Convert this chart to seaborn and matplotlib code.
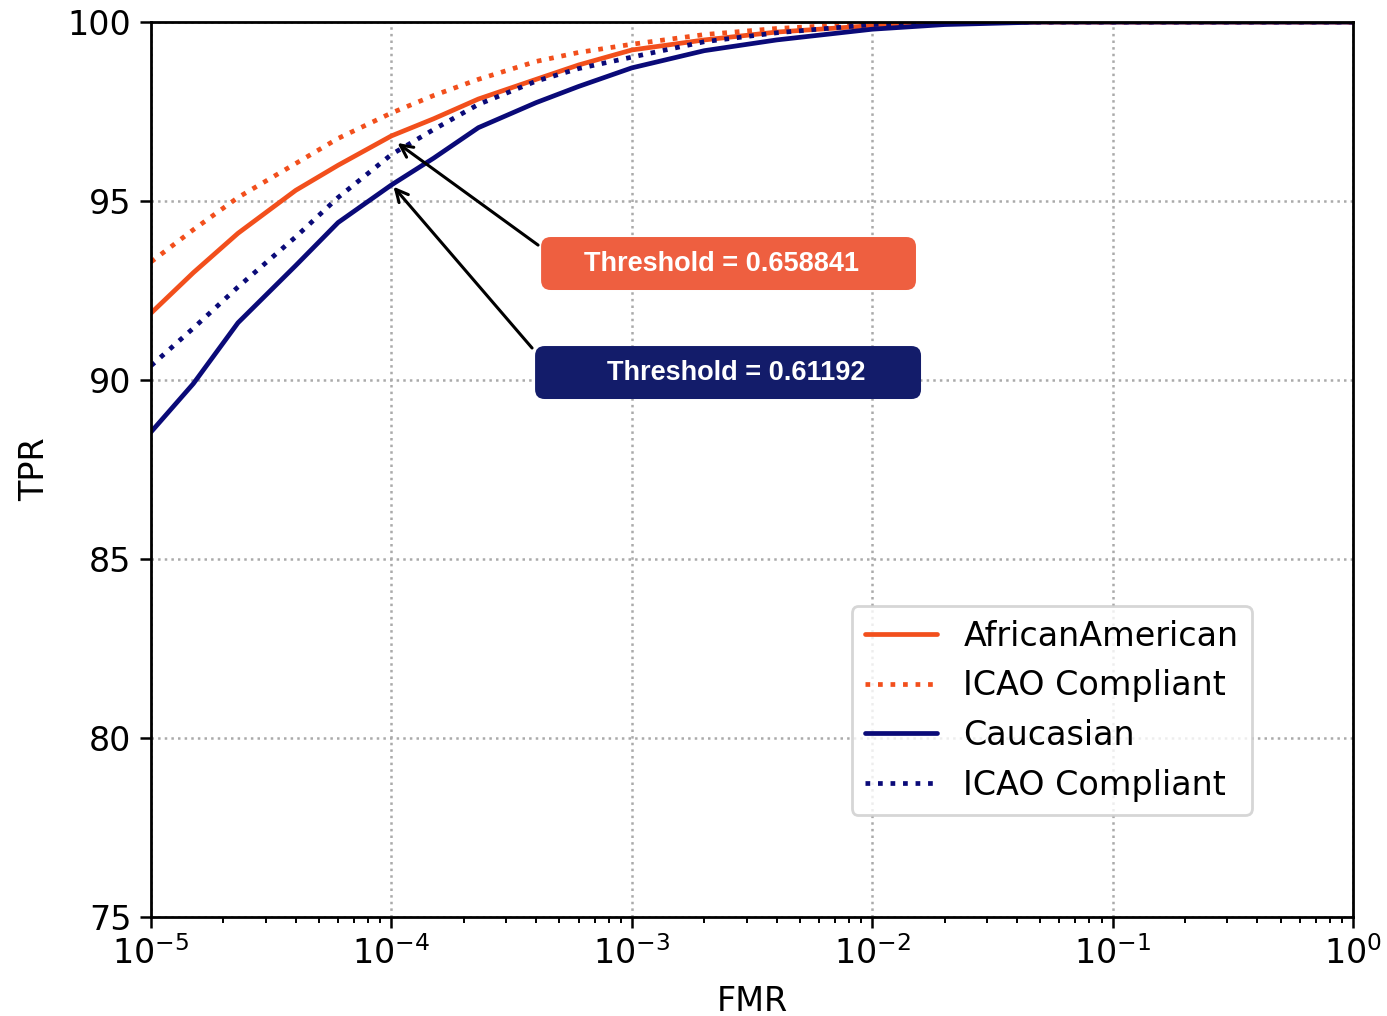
import numpy as np
import pandas as pd
import matplotlib
matplotlib.use("Agg")
import matplotlib.pyplot as plt
from matplotlib.patches import FancyBboxPatch
import seaborn as sns

# ROC operating points: false match rate and true positive rate (%)
fmr = [1e-5, 1.5e-5, 2.3e-5, 4e-5, 6e-5, 1e-4, 1.5e-4, 2.3e-4, 4e-4, 6e-4,
       1e-3, 2e-3, 4e-3, 1e-2, 2e-2, 5e-2, 1e-1, 1.0]

tpr_african_american = [91.87, 93.0, 94.1, 95.3, 96.0, 96.82, 97.3, 97.85, 98.4, 98.8,
                        99.22, 99.5, 99.72, 99.9, 99.97, 100.0, 100.0, 100.0]
tpr_african_american_icao = [93.3, 94.2, 95.1, 96.05, 96.75, 97.46, 97.95, 98.4, 98.9, 99.15,
                             99.38, 99.65, 99.82, 99.96, 100.0, 100.0, 100.0, 100.0]
tpr_caucasian = [88.55, 89.9, 91.6, 93.2, 94.4, 95.45, 96.2, 97.05, 97.75, 98.2,
                 98.72, 99.2, 99.5, 99.8, 99.93, 100.0, 100.0, 100.0]
tpr_caucasian_icao = [90.4, 91.45, 92.6, 94.0, 95.1, 96.3, 97.0, 97.7, 98.35, 98.7,
                      99.02, 99.45, 99.7, 99.93, 100.0, 100.0, 100.0, 100.0]

series_labels = ["AfricanAmerican", "ICAO Compliant", "Caucasian", "ICAO Compliant"]

# Operating point marked on each group's curve and its decision threshold
aa_point = (1.06e-4, 96.62)
aa_threshold = 0.658841
cau_point = (1.02e-4, 95.40)
cau_threshold = 0.61192

x_ticks = [1e-5, 1e-4, 1e-3, 1e-2, 1e-1, 1.0]
x_tick_labels = [r"$10^{-5}$", r"$10^{-4}$", r"$10^{-3}$", r"$10^{-2}$", r"$10^{-1}$", r"$10^{0}$"]
y_ticks = [75, 80, 85, 90, 95, 100]

ORANGE = "#F24F1C"
NAVY = "#0A0A78"

sns.set_style("white")
plt.rcParams["font.family"] = ["DejaVu Sans"]
plt.rcParams["mathtext.fontset"] = "dejavusans"
plt.rcParams["text.color"] = "black"
plt.rcParams["axes.labelcolor"] = "black"
plt.rcParams["xtick.color"] = "black"
plt.rcParams["ytick.color"] = "black"

fig = plt.figure(figsize=(13.87, 10.16), dpi=100)
ax = fig.add_axes([0.1089, 0.0974, 0.8666, 0.8809])

styles = [(tpr_african_american, ORANGE, "-"),
          (tpr_african_american_icao, ORANGE, ":"),
          (tpr_caucasian, NAVY, "-"),
          (tpr_caucasian_icao, NAVY, ":")]

for (tpr, color, ls), label in zip(styles, series_labels):
    df = pd.DataFrame({"FMR": fmr, "TPR": tpr})
    sns.lineplot(data=df, x="FMR", y="TPR", ax=ax, color=color, linestyle=ls,
                 linewidth=3.4, label=label, sort=False)

ax.set_xscale("log")
ax.set_xlim(1e-5, 1.0)
ax.set_ylim(75, 100)
ax.set_xticks(x_ticks)
ax.set_xticklabels(x_tick_labels)
ax.set_yticks(y_ticks)
ax.set_yticklabels([str(v) for v in y_ticks])

ax.grid(True, which="major", linestyle=":", color="#aaaaaa", linewidth=1.8)
ax.set_axisbelow(True)
for sp in ax.spines.values():
    sp.set_color("black")
    sp.set_linewidth(2.0)

ax.tick_params(axis="both", which="major", direction="out", length=8, width=1.8,
               labelsize=24, bottom=True, left=True, color="black",
               labelcolor="black", pad=6)
ax.tick_params(axis="x", which="minor", direction="out", length=4.5, width=1.4,
               bottom=True, color="black")
ax.set_xlabel("FMR", fontsize=24, labelpad=10, color="black")
ax.set_ylabel("TPR", fontsize=24, labelpad=12, color="black")

leg = ax.legend(loc="lower left", bbox_to_anchor=(0.583, 0.114), fontsize=24,
                frameon=True, fancybox=True, borderpad=0.4, labelspacing=0.5,
                handlelength=2.15, handletextpad=0.8, borderaxespad=0)
leg.get_frame().set_edgecolor("#cccccc")
leg.get_frame().set_linewidth(2.0)
for t in leg.get_texts():
    t.set_color("black")

# Threshold callouts: rounded boxes with arrows to the operating points
box_font = dict(family=["Liberation Sans", "DejaVu Sans"], weight="bold",
                fontsize=19.5, color="white")
boxes = [
    ((0.3245, 0.7006), 0.3119, 0.0592, "#EE5F40", 0.475,
     f"Threshold = {aa_threshold}", (0.3220, 0.7508), aa_point),
    ((0.3195, 0.5788), 0.3211, 0.0592, "#131C6A", 0.487,
     f"Threshold = {cau_threshold}", (0.3170, 0.6358), cau_point),
]
aspect = (0.8666 * 13.87) / (0.8809 * 10.16)
for (x0, y0), w, h, fc, tx, txt, tail, tip in boxes:
    patch = FancyBboxPatch((x0, y0), w, h, boxstyle="round,pad=0,rounding_size=0.008",
                           mutation_aspect=aspect, transform=ax.transAxes,
                           facecolor=fc, edgecolor="none", zorder=5, clip_on=False)
    ax.add_patch(patch)
    ax.text(tx, y0 + h / 2, txt, transform=ax.transAxes, ha="center",
            va="center", zorder=6, **box_font)
    ax.annotate("", xy=tip, xycoords="data", xytext=tail, textcoords="axes fraction",
                arrowprops=dict(arrowstyle="->", color="black", lw=2.2,
                                mutation_scale=22, shrinkA=0, shrinkB=0),
                zorder=6)

fig.savefig("out.png", dpi=100)
